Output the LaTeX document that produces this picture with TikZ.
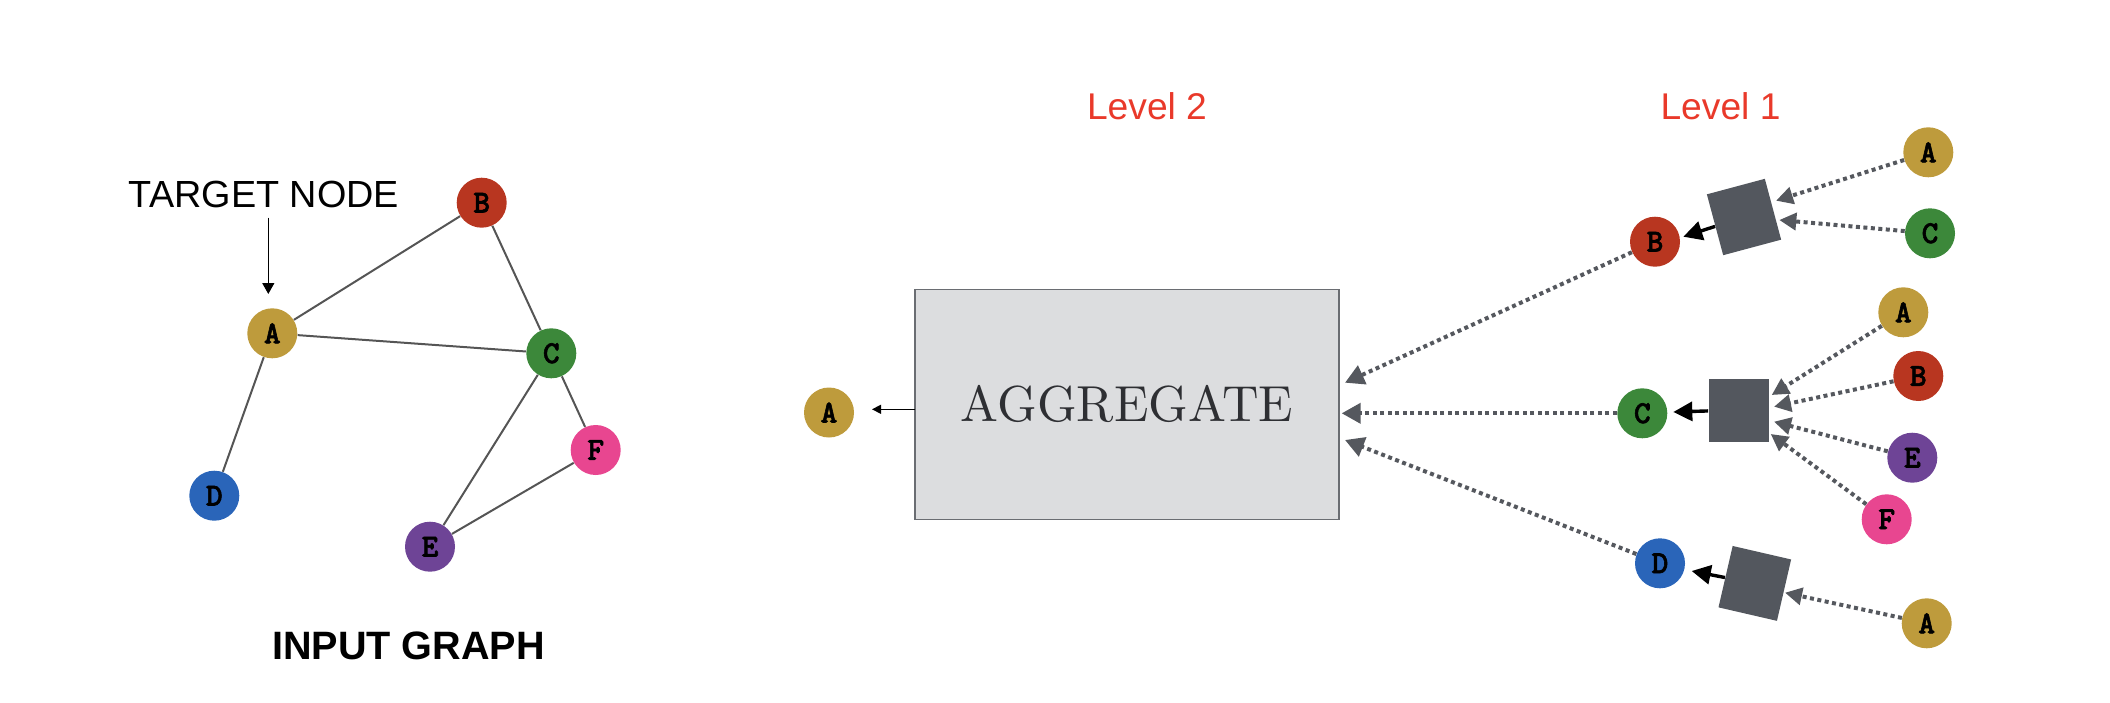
\documentclass[tikz,border=0pt]{standalone}
\usepackage{fontspec}
\newfontfamily\helv{Liberation Sans}
\newfontfamily\monob{lmmonolt10-bold.otf}[FakeBold=1.8]
\newfontfamily\lmten{lmroman10-regular.otf}
\usetikzlibrary{arrows.meta}
\definecolor{cgold}{HTML}{BE9B3C}
\definecolor{cred}{HTML}{B83620}
\definecolor{cgreen}{HTML}{3C883A}
\definecolor{cblue}{HTML}{2A65B9}
\definecolor{cpurple}{HTML}{6E4496}
\definecolor{cpink}{HTML}{E84690}
\definecolor{sqgray}{HTML}{53575E}
\definecolor{dotgray}{HTML}{55585E}
\definecolor{edgegray}{HTML}{555555}
\definecolor{boxgray}{HTML}{DCDDDF}
\definecolor{boxedge}{HTML}{6A6D72}
\definecolor{lvlred}{HTML}{E9392A}
\definecolor{aggtext}{HTML}{2E2F33}
\begin{document}
\begin{tikzpicture}[x=0.5pt,y=-0.5pt,
  gnode/.style={circle,inner sep=0pt,minimum size=25pt,font=\monob\fontsize{16}{16}\selectfont},
  edge/.style={draw=edgegray,line width=1pt},
  dotarr/.style={draw=dotgray,line width=2pt,dash pattern=on 2pt off 1.75pt,-{Triangle[length=9.5pt,width=10pt]}},
  dotarrs/.style={draw=dotgray,line width=2pt,dash pattern=on 2pt off 1.75pt,-{Triangle[length=8.5pt,width=8.5pt]}},
  blkarr/.style={draw=black,line width=1.7pt,-{Triangle[length=9.5pt,width=9.5pt]}},
  sq/.style={rectangle,fill=sqgray,inner sep=0pt,minimum width=30pt,minimum height=31.5pt},
  lvl/.style={font=\helv\fontsize{18.6}{18.6}\selectfont,text=lvlred},
]
\useasboundingbox (0,0) rectangle (2110,702);

% ---- input graph ----
\node[font=\helv\fontsize{18.9}{19}\selectfont] (tgt) at (264,194) {TARGET NODE};
\node[font=\helv\bfseries\fontsize{19.8}{20}\selectfont] (ing) at (408.5,645.5) {INPUT GRAPH};

\node[gnode,fill=cgold]   (gA) at (272.3,333.3) {A};
\node[gnode,fill=cred]    (gB) at (481.7,202.7) {B};
\node[gnode,fill=cgreen]  (gC) at (551.3,353.3) {C};
\node[gnode,fill=cblue]   (gD) at (214.3,495.7) {D};
\node[gnode,fill=cpurple] (gE) at (430,546.7) {E};
\node[gnode,fill=cpink]   (gF) at (595.7,450) {F};

\draw[edge] (gA) -- (gB);
\draw[edge] (gA) -- (gC);
\draw[edge] (gA) -- (gD);
\draw[edge] (gB) -- (gC);
\draw[edge] (gC) -- (gE);
\draw[edge] (gC) -- (gF);
\draw[edge] (gE) -- (gF);

\coordinate (tgtS) at (268.3,217.5);
\coordinate (tgtE) at (268.3,294);
\draw[black,line width=0.7pt,-{Triangle[length=5.5pt,width=6pt]}] (tgtS) -- (tgtE);

% ---- levels ----
\node[lvl] (lv2) at (1147,106) {Level 2};
\node[lvl] (lv1) at (1720.5,106) {Level 1};

% ---- aggregate ----
\node[draw=boxedge,fill=boxgray,line width=0.75pt,minimum width=212pt,minimum height=115pt,inner sep=0pt,
      text=aggtext,font=\lmten\fontsize{25.3}{25.3}\selectfont] (agg) at (1127,404.3) {AGGREGATE};
\node[gnode,fill=cgold] (A0) at (829,412.5) {A};
\coordinate (aggout) at (915,409.3);
\coordinate (tipA0) at (872,409.3);
\draw[black,line width=0.6pt,-{Triangle[length=4.5pt,width=4.5pt]}] (aggout) -- (tipA0);

% ---- level 2 nodes ----
\node[gnode,fill=cred]   (lB) at (1655,241.7) {B};
\node[gnode,fill=cgreen] (lC) at (1642.3,413.3) {C};
\node[gnode,fill=cblue]  (lD) at (1660,563.3) {D};

\coordinate (tB) at (1345,382.7);
\coordinate (tC) at (1341.7,413.3);
\coordinate (tD) at (1345,440);
\draw[dotarr] (lB) -- (tB);
\draw[dotarr] (lC) -- (tC);
\draw[dotarr] (lD) -- (tD);

% ---- squares ----
\node[sq,rotate=15]  (s1) at (1744,217) {};
\node[sq]            (s2) at (1738.5,410) {};
\node[sq,rotate=-13] (s3) at (1754.8,583.4) {};

\coordinate (k1) at (1683.3,236.7);
\coordinate (k2) at (1673.3,412);
\coordinate (k3) at (1691.7,571);
\draw[blkarr] (s1) -- (k1);
\draw[blkarr] (s2) -- (k2);
\draw[blkarr] (s3) -- (k3);

% ---- level 1 nodes ----
\node[gnode,fill=cgold]   (a1) at (1928.3,152.3) {A};
\node[gnode,fill=cgreen]  (c1) at (1930,233.3) {C};
\node[gnode,fill=cgold]   (a2) at (1903.3,312.3) {A};
\node[gnode,fill=cred]    (b2) at (1918.3,376) {B};
\node[gnode,fill=cpurple] (e2) at (1912.3,457.7) {E};
\node[gnode,fill=cpink]   (f2) at (1886.7,519.3) {F};
\node[gnode,fill=cgold]   (a3) at (1926.7,623.3) {A};

\coordinate (t1a) at (1776,200.7);
\coordinate (t1c) at (1779.3,220);
\coordinate (t2a) at (1771.7,395);
\coordinate (t2b) at (1774,406.7);
\coordinate (t2e) at (1774,421.7);
\coordinate (t2f) at (1770.7,434);
\coordinate (t3a) at (1785,592.7);
\draw[dotarrs] (a1) -- (t1a);
\draw[dotarrs] (c1) -- (t1c);
\draw[dotarrs] (a2) -- (t2a);
\draw[dotarrs] (b2) -- (t2b);
\draw[dotarrs] (e2) -- (t2e);
\draw[dotarrs] (f2) -- (t2f);
\draw[dotarrs] (a3) -- (t3a);
\end{tikzpicture}
\end{document}
